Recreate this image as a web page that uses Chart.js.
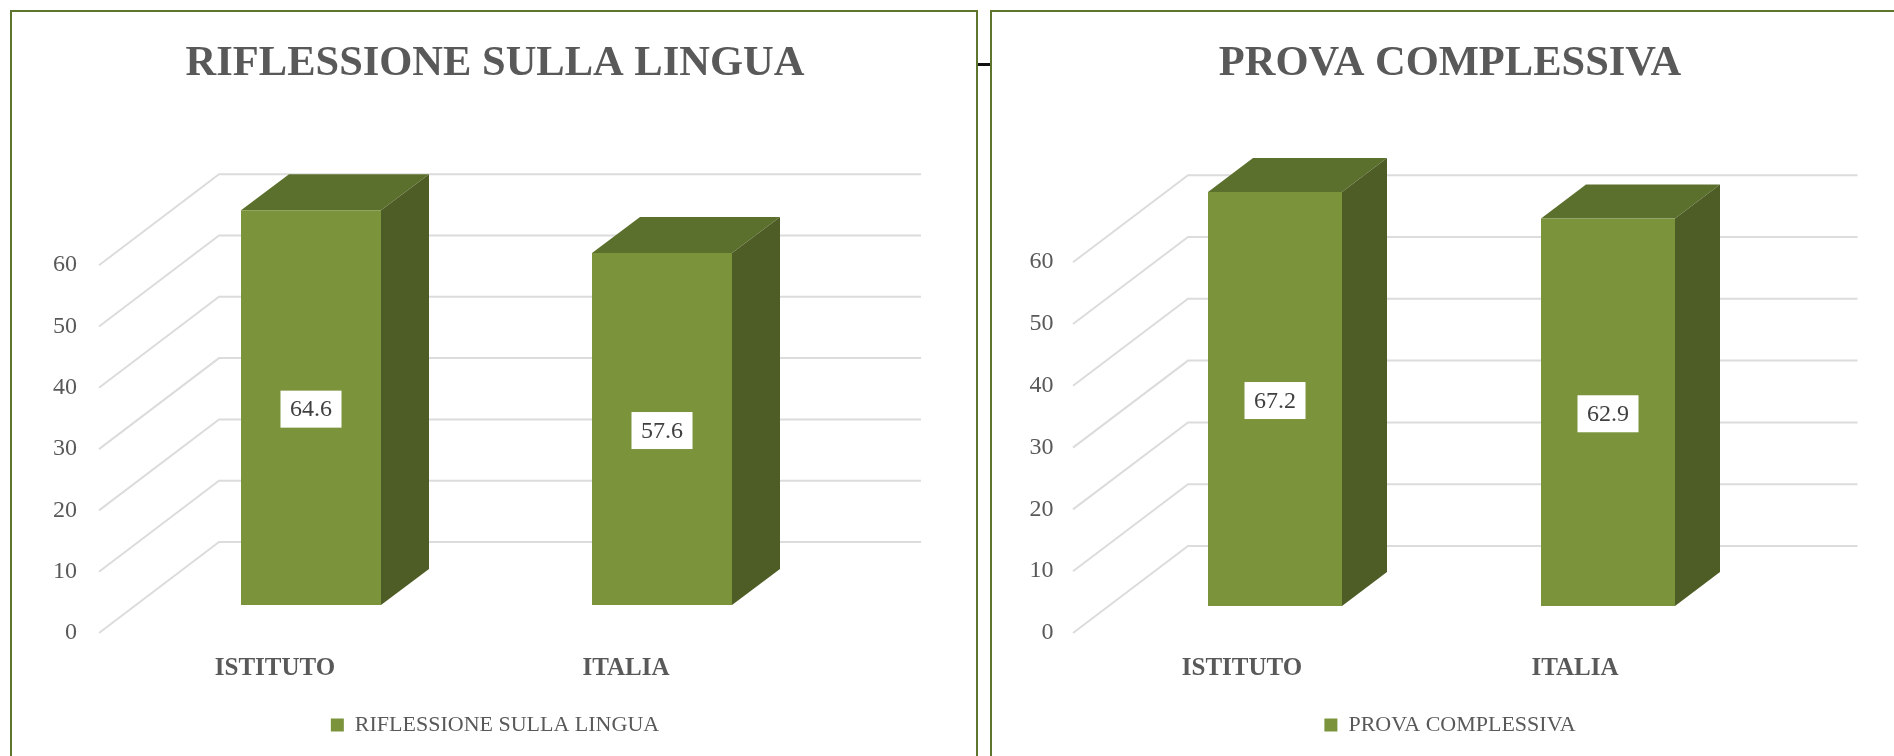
<!DOCTYPE html>
<html><head><meta charset="utf-8">
<script src="https://cdn.jsdelivr.net/npm/chart.js@4"></script>
<style>
html,body{margin:0;padding:0;background:#fff;width:1894px;height:756px;overflow:hidden}
.panel{position:absolute;top:10px;height:760px;border:2px solid #5E7530;box-sizing:border-box;background:#fff}
canvas{position:absolute;top:0;display:block}
#tick{position:absolute;left:978px;top:63px;width:13px;height:3px;background:#111}
</style></head><body>
<div id="tick"></div>
<div class="panel" style="left:10px;width:968px"></div>
<div class="panel" style="left:990px;width:930px"></div>
<canvas id="c1" width="970" height="756" style="left:10px"></canvas>
<canvas id="c2" width="920" height="756" style="left:990px"></canvas>
<script>
const categories = ['ISTITUTO', 'ITALIA'];
const titleLeft = 'RIFLESSIONE SULLA LINGUA';
const titleRight = 'PROVA COMPLESSIVA';
const valuesLeft = [64.6, 57.6];
const valuesRight = [67.2, 62.9];

const FRONT = '#7B943C', TOP = '#5C702D', SIDE = '#4E5D26', GRID = '#DCDCDC', TEXT = '#595959';
const SERIF = '"Liberation Serif", serif';

const box3d = {
  id: 'box3d',
  beforeDatasetsDraw(chart, args, o) {
    const {ctx, chartArea: a, scales} = chart;
    const s = scales.yFront;
    ctx.save();
    ctx.strokeStyle = GRID; ctx.lineWidth = 2; ctx.lineJoin = 'miter';
    s.ticks.forEach(t => {
      const y = s.getPixelForValue(t.value);
      ctx.beginPath();
      ctx.moveTo(a.left - o.frontInset, y);
      ctx.lineTo(a.left - o.frontInset + o.wallDX, y - o.wallDY);
      ctx.lineTo(a.right + o.wallRight, y - o.wallDY);
      ctx.stroke();
    });
    chart.getDatasetMeta(0).data.forEach(b => {
      const l = b.x - b.width / 2, r = b.x + b.width / 2, top = b.y, base = b.base;
      ctx.fillStyle = TOP;
      ctx.beginPath();
      ctx.moveTo(l, top); ctx.lineTo(l + o.dx, top - o.dy); ctx.lineTo(r + o.dx, top - o.dy); ctx.lineTo(r, top);
      ctx.closePath(); ctx.fill();
      ctx.fillStyle = SIDE;
      ctx.beginPath();
      ctx.moveTo(r, top); ctx.lineTo(r + o.dx, top - o.dy); ctx.lineTo(r + o.dx, base - o.dy); ctx.lineTo(r, base);
      ctx.closePath(); ctx.fill();
    });
    ctx.restore();
  },
  afterDatasetsDraw(chart) {
    const {ctx} = chart;
    const vals = chart.data.datasets[0].data;
    ctx.save();
    chart.getDatasetMeta(0).data.forEach((b, i) => {
      const cy = (b.y + b.base) / 2 + 1.5;
      ctx.fillStyle = '#fff';
      ctx.fillRect(b.x - 30.5, cy - 18.5, 61, 37);
      ctx.fillStyle = '#404040';
      ctx.font = '24px ' + SERIF;
      ctx.textAlign = 'center'; ctx.textBaseline = 'middle';
      ctx.fillText(vals[i].toFixed(1), b.x, cy + 1);
    });
    ctx.restore();
  }
};

function build(id, title, values, g) {
  const areaH = 503;
  const frontMax = areaH / g.pxPerUnit;
  const barMin = -g.baseLift / g.barPxPerUnit;
  const barMax = barMin + areaH / g.barPxPerUnit;
  return new Chart(document.getElementById(id), {
    type: 'bar',
    plugins: [box3d],
    data: {
      labels: categories,
      datasets: [{
        label: title, data: values, yAxisID: 'y',
        backgroundColor: FRONT, borderWidth: 0,
        categoryPercentage: 1, barPercentage: g.barPct
      }]
    },
    options: {
      responsive: false, animation: false,
      layout: {padding: {left: 0, right: 0, top: 0, bottom: 10}},
      plugins: {
        tooltip: {enabled: false},
        title: {display: true, text: title, color: TEXT,
          font: {family: SERIF, size: 42.5, weight: 'bold', lineHeight: 1.2},
          padding: {top: 39, bottom: 40}},
        legend: {display: true, position: 'bottom',
          labels: {boxWidth: 13, boxHeight: 13, color: TEXT, padding: 10,
            font: {family: SERIF, size: 22}}},
        box3d: {frontInset: g.frontInset, wallDX: g.wallDX, wallDY: g.wallDY, wallRight: g.wallRight, dx: g.dx, dy: g.dy}
      },
      scales: {
        x: {
          grid: {display: false}, border: {display: false},
          ticks: {color: TEXT, padding: 13, labelOffset: g.labelOffset, maxRotation: 0,
            font: {family: SERIF, size: 25, weight: 'bold'}},
          afterFit(s) { s.height = 71; }
        },
        y: {display: false, min: barMin, max: barMax},
        yFront: {
          position: 'left', min: 0, max: frontMax,
          grid: {display: false, drawTicks: false}, border: {display: false},
          ticks: {stepSize: 10, color: TEXT, padding: g.tickPad,
            font: {family: SERIF, size: 24}},
          afterBuildTicks(s) { s.ticks = s.ticks.filter(t => t.value <= 60); },
          afterFit(s) { s.width = g.axisW; }
        },
        yRight: {
          position: 'right', min: 0, max: frontMax,
          grid: {display: false, drawTicks: false}, border: {display: false},
          ticks: {display: false},
          afterFit(s) { s.width = g.padRight; }
        }
      }
    }
  });
}

build('c1', titleLeft, valuesLeft, {
  pxPerUnit: 6.13, barPxPerUnit: 6.11, baseLift: 28, barPct: 140 / 351, padRight: 142.5, axisW: 125.5, tickPad: 58.5,
  labelOffset: -36, frontInset: 36.5, wallDX: 120, wallDY: 91, wallRight: 83.5, dx: 48, dy: 36
});
build('c2', titleRight, valuesRight, {
  pxPerUnit: 6.18, barPxPerUnit: 6.16, baseLift: 27, barPct: 134 / 333, padRight: 135.5, axisW: 118.5, tickPad: 55,
  labelOffset: -33, frontInset: 35.5, wallDX: 115, wallDY: 87, wallRight: 83, dx: 45, dy: 34
});
</script>
</body></html>
